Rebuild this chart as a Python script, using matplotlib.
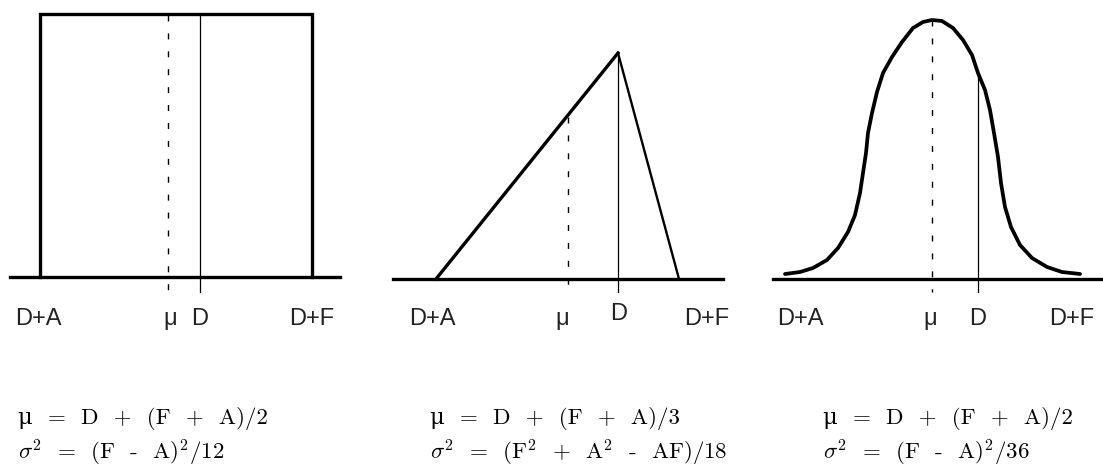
import matplotlib.pyplot as plt

plt.rcParams['mathtext.fontset'] = 'cm'

# ---- shapes (pixel units, y grows downward) ----
# uniform
uni_x = [40, 40, 312, 312]
uni_y = [277, 14, 14, 277]
uni_base = [10, 340]
uni_mu, uni_d = 168, 200

# triangular
tri_left_x, tri_left_y = [436, 618], [279, 53]
tri_right_x, tri_right_y = [618, 679], [53, 279]
tri_base = [393, 723]
tri_mu, tri_mu_top = 568, 117
tri_d = 618

# normal
norm_x = [785, 800, 813, 827, 838, 848, 855, 860, 863, 866, 868, 872,
          877, 883, 892, 902, 913, 923, 932, 942, 953, 963, 972, 978,
          985, 990, 994, 998, 1001, 1005, 1011, 1020, 1032, 1047, 1062, 1080]
norm_y = [274, 272, 268, 260, 248, 232, 215, 193, 173, 153, 133, 113,
          92, 73, 57, 42, 28, 22, 20, 21, 28, 40, 55, 73,
          90, 110, 133, 157, 183, 207, 227, 245, 258, 267, 272, 274]
norm_base = [773, 1103]
norm_mu, norm_mu_top = 932, 20
norm_d, norm_d_top = 978, 74

tick_labels = ['D+A', 'μ', 'D', 'D+F']
label_x = [[38, 170, 200, 312], [432, 562, 619, 707], [800, 930, 978, 1072]]

formulas = [
    ['μ  =  D  +  (F  +  A)/2', r'$\sigma^2$  =  (F  -  A)$^2$/12'],
    ['μ  =  D  +  (F  +  A)/3', r'$\sigma^2$  =  (F$^2$  +  A$^2$  -  AF)/18'],
    ['μ  =  D  +  (F  +  A)/2', r'$\sigma^2$  =  (F  -  A)$^2$/36'],
]
formula_x = [18, 430, 823]

fig = plt.figure(figsize=(11.03, 4.67), dpi=100)
ax = fig.add_axes([0, 0, 1, 1])
ax.set_xlim(0, 1103)
ax.set_ylim(467, 0)
ax.axis('off')

K = 'black'
THICK = 2.4
DASH = (0, (4.3, 8.6))

# uniform
ax.plot(uni_x, uni_y, color=K, lw=THICK, solid_joinstyle='miter')
ax.plot(uni_base, [277, 277], color=K, lw=THICK)
ax.plot([uni_mu, uni_mu], [15, 292], color=K, lw=1.0, linestyle=DASH)
ax.plot([uni_d, uni_d], [14, 292], color=K, lw=0.9)

# triangular
ax.plot(tri_left_x, tri_left_y, color=K, lw=THICK)
ax.plot(tri_right_x, tri_right_y, color=K, lw=1.7)
ax.plot(tri_base, [279, 279], color=K, lw=THICK)
ax.plot([tri_mu, tri_mu], [tri_mu_top, 292], color=K, lw=1.0, linestyle=DASH)
ax.plot([tri_d, tri_d], [55, 292], color=K, lw=0.9)

# normal
ax.plot(norm_x, norm_y, color=K, lw=2.7, solid_joinstyle='round',
        solid_capstyle='round')
ax.plot(norm_base, [279, 279], color=K, lw=THICK)
ax.plot([norm_mu, norm_mu], [norm_mu_top, 292], color=K, lw=1.0, linestyle=DASH)
ax.plot([norm_d, norm_d], [norm_d_top, 292], color=K, lw=0.9)

# axis labels under each baseline
for p, xs in enumerate(label_x):
    for lab, x in zip(tick_labels, xs):
        y = 325
        if p == 1 and lab == 'D':
            y = 320
        ax.text(x, y, lab, ha='center', va='baseline', fontsize=17,
                family=['Liberation Sans', 'DejaVu Sans'], color='#222222')

# formulas
for x, (l1, l2) in zip(formula_x, formulas):
    ax.text(x, 424, l1, ha='left', va='baseline', fontsize=16.5,
            family=['cmr10', 'DejaVu Serif'])
    ax.text(x, 459, l2, ha='left', va='baseline', fontsize=16.5,
            family=['cmr10', 'DejaVu Serif'])

fig.savefig('out.png', dpi=100, facecolor='white')
